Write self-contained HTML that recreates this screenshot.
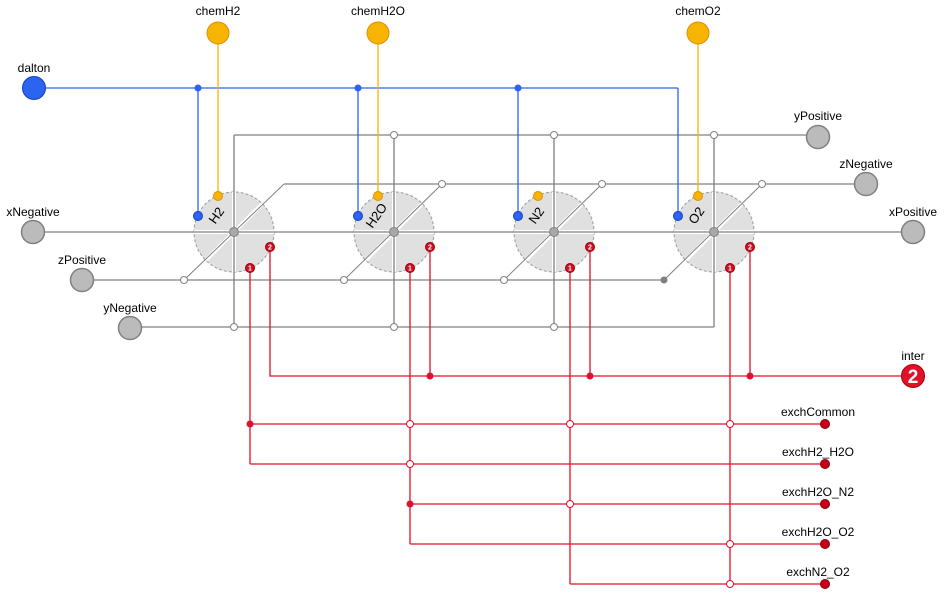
<!DOCTYPE html>
<html><head><style>body{margin:0;background:#fff}svg{display:block}text{font-family:"Liberation Sans",Arial,sans-serif;font-size:12px;fill:#000}</style></head><body>
<svg width="946" height="595" viewBox="0 0 946 595" xmlns="http://www.w3.org/2000/svg">
<g fill="#e0e0e0" stroke="#999" stroke-dasharray="3,2">
<circle cx="234" cy="232" r="40"/><circle cx="394" cy="232" r="40"/><circle cx="554" cy="232" r="40"/><circle cx="714" cy="232" r="40"/>
</g>
<g stroke="#fff" stroke-width="4">
<path d="M194 232H274M234 192V272M206 260L262 204M354 232H434M394 192V272M366 260L422 204M514 232H594M554 192V272M526 260L582 204M674 232H754M714 192V272M686 260L742 204"/>
</g>
<g stroke="#808080" fill="none" stroke-width="1.3">
<path d="M33 232H913"/>
<path d="M234 135H818M234 135V327M394 135V327M554 135V327M714 135V327M130 327H714"/>
<path d="M284 184H866M82 280H664"/>
</g>
<g stroke="#808080" fill="none" stroke-width="1">
<path d="M184 280L284 184M344 280L442 184M504 280L602 184M664 280L762 184"/>
</g>
<g stroke="#2a64f0" fill="none" stroke-width="1.3">
<path d="M34 88H678M198 88V216M358 88V216M518 88V216M678 88V216"/>
</g>
<g stroke="#f8b400" fill="none" stroke-width="1.3">
<path d="M218 33V196M378 33V196M698 33V196"/>
</g>
<g stroke="#e0112b" fill="none" stroke-width="1.3">
<path d="M270 247V376H913M430 247V376M590 247V376M750 247V376"/>
<path d="M250 268V464M410 268V544M570 268V584M730 268V584"/>
<path d="M250 424H825M250 464H825M410 504H825M410 544H825M570 584H825"/>
</g>
<g fill="#fff" stroke="#808080">
<circle cx="394" cy="135" r="3.5"/><circle cx="554" cy="135" r="3.5"/><circle cx="714" cy="135" r="3.5"/>
<circle cx="234" cy="327" r="3.5"/><circle cx="394" cy="327" r="3.5"/><circle cx="554" cy="327" r="3.5"/>
<circle cx="442" cy="184" r="3.5"/><circle cx="602" cy="184" r="3.5"/><circle cx="762" cy="184" r="3.5"/>
<circle cx="184" cy="280" r="3.5"/><circle cx="344" cy="280" r="3.5"/><circle cx="504" cy="280" r="3.5"/>
</g>
<circle cx="664" cy="280" r="3.5" fill="#808080"/>
<g fill="#fff" stroke="#e0112b">
<circle cx="410" cy="424" r="3.5"/><circle cx="570" cy="424" r="3.5"/><circle cx="730" cy="424" r="3.5"/>
<circle cx="410" cy="464" r="3.5"/><circle cx="570" cy="504" r="3.5"/><circle cx="730" cy="544" r="3.5"/><circle cx="730" cy="584" r="3.5"/>
</g>
<g fill="#e0112b">
<circle cx="430" cy="376" r="3.5"/><circle cx="590" cy="376" r="3.5"/><circle cx="750" cy="376" r="3.5"/>
<circle cx="250" cy="424" r="3.5"/><circle cx="410" cy="504" r="3.5"/>
</g>
<g fill="#2a64f0"><circle cx="198" cy="88" r="3.5"/><circle cx="358" cy="88" r="3.5"/><circle cx="518" cy="88" r="3.5"/></g>
<g fill="#a8a8a8" stroke="#808080"><circle cx="234" cy="232" r="4.5"/><circle cx="394" cy="232" r="4.5"/><circle cx="554" cy="232" r="4.5"/><circle cx="714" cy="232" r="4.5"/></g>
<g fill="#2a64f0" stroke="#1040c0"><circle cx="198" cy="216" r="4.5"/><circle cx="358" cy="216" r="4.5"/><circle cx="518" cy="216" r="4.5"/><circle cx="678" cy="216" r="4.5"/></g>
<g fill="#f8b400" stroke="#e09000"><circle cx="218" cy="196" r="4.5"/><circle cx="378" cy="196" r="4.5"/><circle cx="538" cy="196" r="4.5"/><circle cx="698" cy="196" r="4.5"/></g>
<g fill="#d0102a" stroke="#900"><circle cx="250" cy="268" r="4.5"/><circle cx="410" cy="268" r="4.5"/><circle cx="570" cy="268" r="4.5"/><circle cx="730" cy="268" r="4.5"/>
<circle cx="270" cy="247" r="4.5"/><circle cx="430" cy="247" r="4.5"/><circle cx="590" cy="247" r="4.5"/><circle cx="750" cy="247" r="4.5"/></g>
<g text-anchor="middle" style="fill:#fff;font-size:7px;font-weight:bold">
<text x="250" y="270.5" style="fill:#fff;font-size:7px">1</text><text x="410" y="270.5" style="fill:#fff;font-size:7px">1</text><text x="570" y="270.5" style="fill:#fff;font-size:7px">1</text><text x="730" y="270.5" style="fill:#fff;font-size:7px">1</text>
<text x="270" y="249.5" style="fill:#fff;font-size:7px">2</text><text x="430" y="249.5" style="fill:#fff;font-size:7px">2</text><text x="590" y="249.5" style="fill:#fff;font-size:7px">2</text><text x="750" y="249.5" style="fill:#fff;font-size:7px">2</text>
</g>
<g text-anchor="middle">
<text transform="translate(220,218) rotate(-55)" style="font-size:13px">H2</text>
<text transform="translate(380,218) rotate(-55)" style="font-size:13px">H2O</text>
<text transform="translate(540,218) rotate(-55)" style="font-size:13px">N2</text>
<text transform="translate(700,218) rotate(-55)" style="font-size:13px">O2</text>
</g>
<circle cx="34" cy="88" r="11.5" fill="#2a64f0" stroke="#1040c0"/>
<g fill="#f8b400" stroke="#e09000"><circle cx="218" cy="33" r="11"/><circle cx="378" cy="33" r="11"/><circle cx="698" cy="33" r="11"/></g>
<g fill="#bbb" stroke="#808080" stroke-width="1.5">
<circle cx="33" cy="232" r="11.5"/><circle cx="82" cy="280" r="11.5"/><circle cx="130" cy="328" r="11.5"/>
<circle cx="818" cy="137" r="11.5"/><circle cx="866" cy="184" r="11.5"/><circle cx="913" cy="232" r="11.5"/>
</g>
<circle cx="913" cy="376" r="11.5" fill="#e0112b" stroke="#a00"/>
<text x="913" y="383" text-anchor="middle" style="fill:#fff;font-size:19px;font-weight:bold">2</text>
<g fill="#c8001e" stroke="#800"><circle cx="825" cy="424" r="4.5"/><circle cx="825" cy="464" r="4.5"/><circle cx="825" cy="504" r="4.5"/><circle cx="825" cy="544" r="4.5"/><circle cx="825" cy="584" r="4.5"/></g>
<text x="34" y="72" text-anchor="middle">dalton</text>
<text x="218" y="15" text-anchor="middle">chemH2</text>
<text x="378" y="15" text-anchor="middle">chemH2O</text>
<text x="698" y="15" text-anchor="middle">chemO2</text>
<text x="33" y="216" text-anchor="middle">xNegative</text>
<text x="82" y="264" text-anchor="middle">zPositive</text>
<text x="130" y="312" text-anchor="middle">yNegative</text>
<text x="818" y="120" text-anchor="middle">yPositive</text>
<text x="866" y="168" text-anchor="middle">zNegative</text>
<text x="913" y="216" text-anchor="middle">xPositive</text>
<text x="913" y="360" text-anchor="middle">inter</text>
<text x="818" y="416" text-anchor="middle">exchCommon</text>
<text x="818" y="456" text-anchor="middle">exchH2_H2O</text>
<text x="818" y="496" text-anchor="middle">exchH2O_N2</text>
<text x="818" y="536" text-anchor="middle">exchH2O_O2</text>
<text x="818" y="576" text-anchor="middle">exchN2_O2</text>
</svg>
</body></html>
